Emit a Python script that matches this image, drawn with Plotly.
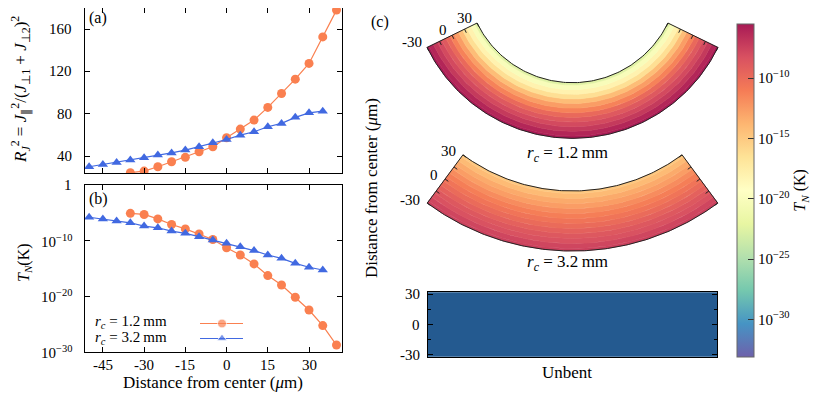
import numpy as np
import plotly.graph_objects as go
import plotly.colors as pcol

# the page puts the plot 8 px from the top-left corner of the window
OFF = 8
W, H = 830 - OFF, 395 - OFF

# ---------------- data ----------------
# r_c = 1.2 mm
dist_12 = [-35, -30, -25, -20, -15, -10, -5, 0, 5, 10, 15, 20, 25, 30, 35, 40]
ratio_12 = [24.3, 25.8, 29.9, 34.6, 38.8, 44.1, 48.8, 57.3, 65.5, 74.0,
            86.0, 99.2, 112.7, 127.6, 152.7, 178.0]
logT_12 = [-5.1, -5.3, -6.1, -7.1, -7.9, -8.8, -9.8, -11.3, -12.6, -14.2,
           -16.3, -18.0, -20.2, -22.5, -25.3, -28.8]
# r_c = 3.2 mm
dist_32 = [-50, -45, -40, -35, -30, -25, -20, -15, -10, -5, 0, 5, 10, 15,
           20, 25, 30, 35]
ratio_32 = [29.9, 32.0, 34.0, 36.2, 38.4, 41.0, 43.0, 45.7, 48.8, 52.6,
            55.7, 59.8, 63.0, 67.7, 70.9, 76.6, 80.9, 82.5]
logT_32 = [-5.8, -6.1, -6.5, -6.8, -7.4, -7.7, -8.3, -8.7, -9.3, -9.9,
           -10.5, -11.1, -11.8, -12.6, -13.2, -14.1, -14.8, -15.3]

x_ticks = [-45, -30, -15, 0, 15, 30]
ratio_ticks = [40, 80, 120, 160]
logT_ticks = [0, -10, -20, -30]
cbar_ticks = [-10, -15, -20, -25, -30]
channel_ticks = [-30, -15, 0, 15, 30]
channel_labels = [-30, 0, 30]

ORANGE = "#fa8050"
BLUE = "#4169e1"
UNBENT = "#245a90"
FONT = "Liberation Serif"
TICK = 15
TEXT = 16

# Spectral reversed, slightly washed out
base = list(reversed(pcol.diverging.Spectral))


def soften(c, a=0.9):
    v = [int(float(t)) for t in c[c.index("(") + 1:-1].split(",")]
    return "rgb(%d,%d,%d)" % tuple(round(a * t + (1 - a) * 255) for t in v)


cscale = [[i / (len(base) - 1), soften(c)] for i, c in enumerate(base)]
CMIN, CMAX = -33.1, -5.5


def num(v):
    # plain hyphen minus, as in the original
    return str(v) if v >= 0 else "-%d" % -v


def sci(e):
    return "1" if e == 0 else "10<sup>−%d</sup>" % -e


# window pixel -> paper fraction
def px(x):
    return (x - OFF) / W


def py(y):
    return 1 - (y - OFF) / H


fig = go.Figure()

# ---------------- (a) ----------------
fig.add_trace(go.Scatter(x=dist_12, y=ratio_12, mode="lines+markers",
                         line=dict(color=ORANGE, width=1.2),
                         marker=dict(symbol="circle", size=9, color=ORANGE),
                         xaxis="x", yaxis="y", showlegend=False))
fig.add_trace(go.Scatter(x=dist_32, y=ratio_32, mode="lines+markers",
                         line=dict(color=BLUE, width=1.2),
                         marker=dict(symbol="triangle-up", size=9, color=BLUE),
                         xaxis="x", yaxis="y", showlegend=False))

# ---------------- (b) ----------------
fig.add_trace(go.Scatter(x=dist_12, y=np.power(10.0, logT_12), mode="lines+markers",
                         line=dict(color=ORANGE, width=1.2),
                         marker=dict(symbol="circle", size=9, color=ORANGE),
                         xaxis="x2", yaxis="y2", showlegend=False))
fig.add_trace(go.Scatter(x=dist_32, y=np.power(10.0, logT_32), mode="lines+markers",
                         line=dict(color=BLUE, width=1.2),
                         marker=dict(symbol="triangle-up", size=9, color=BLUE),
                         xaxis="x2", yaxis="y2", showlegend=False))

# ---------------- (c) bent channels on a pixel canvas ----------------
# geometry of the drawing: centre (px), outer radius, thickness, half opening angle
arcs = [
    dict(cx=572.5, cy=-23.5, r_out=161.8, thick=55.6, half=64.0, d=dist_12, v=logT_12),
    dict(cx=572.5, cy=6.8, r_out=244.2, thick=60.0, half=36.5, d=dist_32, v=logT_32),
]


def radius(a, d):
    return a["r_out"] - (d + 30) / 60 * a["thick"]


def point(a, r, phi):
    p = np.radians(phi)
    return a["cx"] + r * np.sin(p), -a["cy"] - r * np.cos(p)


def band(a, r0, r1, n=120):
    phi = np.linspace(-a["half"], a["half"], n)
    xo, yo = point(a, r0, phi)
    xi, yi = point(a, r1, phi[::-1])
    return np.r_[xo, xi, xo[:1]], np.r_[yo, yi, yo[:1]]


annotations = []
for a in arcs:
    for d, v in zip(a["d"], a["v"]):
        if d < -30 or d > 30:
            continue
        lo, hi = max(-30, d - 2.5), min(30, d + 2.5)
        t = min(max((v - CMIN) / (CMAX - CMIN), 0), 1)
        col = pcol.sample_colorscale(cscale, [t])[0]
        xs, ys = band(a, radius(a, lo), radius(a, hi))
        fig.add_trace(go.Scatter(x=xs, y=ys, mode="lines", fill="toself",
                                 fillcolor=col, line=dict(color=col, width=0.6),
                                 xaxis="x3", yaxis="y3", showlegend=False,
                                 hoverinfo="skip"))
    # outline
    xs, ys = band(a, radius(a, -30), radius(a, 30))
    fig.add_trace(go.Scatter(x=xs, y=ys, mode="lines",
                             line=dict(color="#222", width=1),
                             xaxis="x3", yaxis="y3", showlegend=False, hoverinfo="skip"))
    # radial ticks on both ends
    tx, ty = [], []
    h = np.radians(a["half"])
    for d in channel_ticks:
        r = radius(a, d)
        for sgn in (-1, 1):
            x0, y0 = point(a, r, sgn * a["half"])
            tx += [x0, x0 - sgn * 4 * np.cos(h), None]
            ty += [y0, y0 - 4 * np.sin(h), None]
    fig.add_trace(go.Scatter(x=tx, y=ty, mode="lines", line=dict(color="#222", width=1),
                             xaxis="x3", yaxis="y3", showlegend=False, hoverinfo="skip"))
    for d in channel_labels:
        x0, y0 = point(a, radius(a, d), -a["half"])
        annotations.append(dict(text=num(d),
                                x=x0 - 6 * np.cos(h), y=y0 + 6 * np.sin(h),
                                xref="x3", yref="y3", xanchor="right", yanchor="middle",
                                showarrow=False, font=dict(size=TICK)))

# hidden trace carrying the shared colour axis
fig.add_trace(go.Scatter(x=[572.5] * 2, y=[-100] * 2, mode="markers",
                         marker=dict(color=[CMIN, CMAX], coloraxis="coloraxis", size=1, opacity=0),
                         xaxis="x3", yaxis="y3", showlegend=False, hoverinfo="skip"))

# legend samples of (b), drawn symbol-after-text
for yy, col, sym in [(323.5, ORANGE, "circle"), (338.5, BLUE, "triangle-up")]:
    fig.add_trace(go.Scatter(x=[200, 222, 243], y=[-yy] * 3, mode="lines+markers",
                             line=dict(color=col, width=1.2),
                             marker=dict(symbol=sym, size=[0, 9, 0], color=col),
                             xaxis="x3", yaxis="y3", showlegend=False, hoverinfo="skip"))

# unbent channel
fig.add_trace(go.Heatmap(z=[[0]], x0=0.5, dx=1, y0=0, dy=70,
                         colorscale=[[0, UNBENT], [1, UNBENT]], showscale=False,
                         xaxis="x4", yaxis="y4", hoverinfo="skip"))

axis_common = dict(showline=True, linecolor="black", linewidth=1, mirror="ticks",
                   ticks="inside", ticklen=5, tickwidth=1, tickcolor="black",
                   showgrid=False, zeroline=False, showticklabels=False)

fig.update_layout(
    width=W, height=H, margin=dict(l=0, r=0, t=0, b=0, autoexpand=False),
    paper_bgcolor="white", plot_bgcolor="rgba(0,0,0,0)",
    font=dict(family=FONT, size=TEXT, color="black"),
    xaxis=dict(domain=[px(85), px(342)], range=[-51.5, 42], tickvals=x_ticks,
               anchor="y", **axis_common),
    yaxis=dict(domain=[py(173), py(8)], range=[24, 180], tickvals=ratio_ticks,
               anchor="x", **axis_common),
    xaxis2=dict(domain=[px(85), px(342)], range=[-51.5, 42], tickvals=x_ticks,
                anchor="y2", **axis_common),
    yaxis2=dict(domain=[py(351.7), py(185)], type="log", range=[-30, 0],
                tickvals=[10.0 ** e for e in logT_ticks], anchor="x2", **axis_common),
    xaxis3=dict(domain=[0, 1], range=[OFF, OFF + W], visible=False, fixedrange=True),
    yaxis3=dict(domain=[0, 1], range=[-(OFF + H), -OFF], visible=False, fixedrange=True,
                anchor="x3"),
    xaxis4=dict(domain=[px(427.7), px(717.3)], range=[0, 1], showticklabels=False,
                showline=True, linecolor="black", linewidth=1, mirror=True,
                ticks="", showgrid=False, zeroline=False, anchor="y4"),
    yaxis4=dict(domain=[py(356.7), py(292.3)], range=[-31.7, 32],
                tickvals=[-30, 0, 30],
                minor=dict(tickvals=[-15, 15], ticks="inside", ticklen=3,
                           tickcolor="black", showgrid=False),
                anchor="x4", **axis_common),
    coloraxis=dict(colorscale=cscale, cmin=CMIN, cmax=CMAX,
                   colorbar=dict(x=px(737), xanchor="left", xpad=0,
                                 y=py((24 + 356.7) / 2), yanchor="middle", ypad=0,
                                 len=(356.7 - 24) / H, lenmode="fraction",
                                 thickness=17, thicknessmode="pixels",
                                 outlinewidth=1, outlinecolor="#666",
                                 ticks="inside", ticklen=6, tickcolor="#333",
                                 tickvals=cbar_ticks,
                                 ticktext=[sci(e) for e in cbar_ticks],
                                 tickfont=dict(size=TICK),
                                 title=dict(text="<i>T<sub>N</sub></i> (K)", side="right",
                                            font=dict(size=TEXT)))),
)


def note(text, x, y, **kw):
    d = dict(text=text, x=px(x), y=py(y), xref="paper", yref="paper", showarrow=False,
             xanchor="center", yanchor="middle", font=dict(size=TEXT))
    d.update(kw)
    return d


# tick labels, placed on the axes' own scales
for v in ratio_ticks:
    annotations.append(dict(text=num(v), x=px(74), xref="paper", y=v, yref="y",
                            xanchor="right", yanchor="middle", showarrow=False,
                            font=dict(size=TICK)))
for e in logT_ticks:
    annotations.append(dict(text=sci(e), x=px(74), xref="paper", y=e, yref="y2",
                            xanchor="right", yanchor="middle", showarrow=False,
                            font=dict(size=TICK)))
for v in x_ticks:
    annotations.append(dict(text=num(v), x=v, xref="x2", y=py(365), yref="paper",
                            xanchor="center", yanchor="middle", showarrow=False,
                            font=dict(size=TICK)))
for v in [-30, 0, 30]:
    annotations.append(dict(text=num(v), x=px(422), xref="paper", y=v, yref="y4",
                            xanchor="right", yanchor="middle", showarrow=False,
                            font=dict(size=TICK)))

RC12 = "<i>r<sub>c</sub></i> = 1.2\u2009mm"
RC32 = "<i>r<sub>c</sub></i> = 3.2\u2009mm"
annotations += [
    note("(a)", 98, 18),
    note("(b)", 98, 199),
    note("(c)", 380, 22),
    note("<i>R</i><sub><i>J</i></sub><sup>2</sup> = <i>J</i><sub>∥</sub><sup>2</sup>/"
         "(<i>J</i><sub>⊥1</sub> + <i>J</i><sub>⊥2</sub>)<sup>2</sup>",
         20, 90, textangle=-90, font=dict(size=17)),
    note("<i>T<sub>N</sub></i>(K)", 25, 263, textangle=-90),
    note("Distance from center (<i>μ</i>m)", 213, 382, font=dict(size=17)),
    note(RC12, 93, 322, xanchor="left", font=dict(size=15)),
    note(RC32, 93, 338, xanchor="left", font=dict(size=15)),
    note(RC12, 567, 154, font=dict(size=17)),
    note(RC32, 567, 263, font=dict(size=17)),
    note("Unbent", 567, 372, font=dict(size=17)),
    note("Distance from center (<i>μ</i>m)", 372, 188, textangle=-90, font=dict(size=17)),
]
fig.update_layout(annotations=annotations)

fig.write_html("out.html")
